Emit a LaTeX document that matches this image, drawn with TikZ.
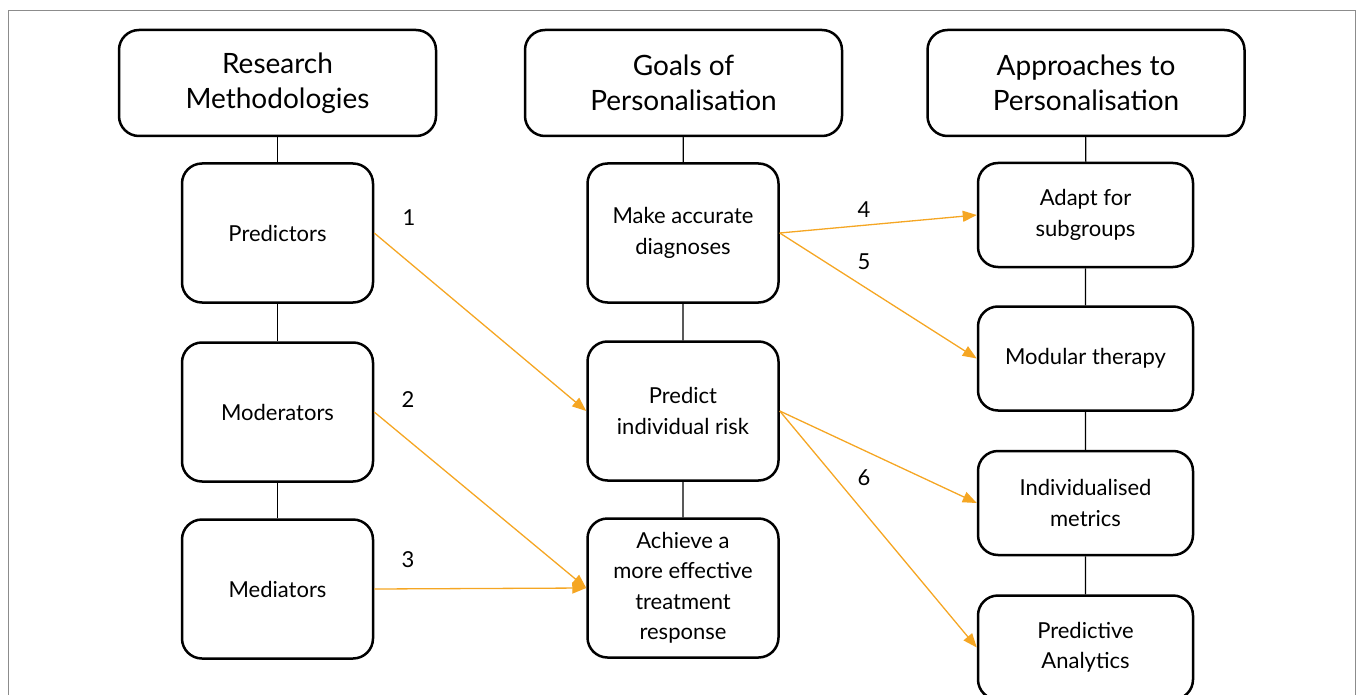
\documentclass[tikz,border=0pt]{standalone}
\usepackage{fontspec}
\setmainfont{Lato}
\usetikzlibrary{arrows.meta}
\definecolor{arrorange}{RGB}{245,166,35}
\begin{document}
\begin{tikzpicture}[x=1pt,y=-1pt,
  headbox/.style={draw,line width=2.5pt,rounded corners=20pt,minimum width=317pt,minimum height=106pt,align=center,font=\fontsize{28}{35}\selectfont},
  itembox/.style={draw,line width=2.5pt,rounded corners=20pt,minimum width=191pt,minimum height=139pt,align=center,font=\fontsize{22}{30.5}\selectfont},
  appbox/.style={itembox,minimum width=215pt,minimum height=104pt},
  link/.style={line width=1.2pt},
  flow/.style={draw=arrorange,line width=1.3pt,-{Triangle[length=14pt,width=11pt]}},
  num/.style={font=\fontsize{22}{26}\selectfont}]
\useasboundingbox (0,0) rectangle (1356,695);
\clip (0,0) rectangle (1356,695);
\draw[black!45,line width=1pt] (8,720) -- (8,11) -- (1355,11) -- (1355,720);
\node[headbox] (meth) at (277.5,83) {Research\\Methodologies};
\node[headbox] (goal) at (683.5,83) {Goals of\\Personalisation};
\node[headbox] (appr) at (1086,83) {Approaches to\\Personalisation};
\node[itembox] (pred) at (277.5,233) {Predictors};
\node[itembox] (mod) at (277.5,412) {Moderators};
\node[itembox] (med) at (277.5,589) {Mediators};
\node[itembox] (diag) at (683,233) {Make accurate\\diagnoses};
\node[itembox] (risk) at (683,411) {Predict\\individual risk};
\node[itembox] (resp) at (683,588) {Achieve a\\more effective\\treatment\\response};
\node[appbox] (sub) at (1085.5,215) {Adapt for\\subgroups};
\node[appbox] (modu) at (1085.5,358.5) {Modular therapy};
\node[appbox] (metr) at (1085.5,503) {Individualised\\metrics};
\node[appbox] (anal) at (1085.5,647.5) {Predictive\\Analytics};
\draw[link] (meth) -- (pred) (pred) -- (mod) (mod) -- (med);
\draw[link] (goal) -- (diag) (diag) -- (risk) (risk) -- (resp);
\draw[link] (appr) -- (sub) (sub) -- (modu) (modu) -- (metr) (metr) -- (anal);
\draw[flow] (pred.east) -- (risk.west);
\draw[flow] (mod.east) -- (resp.west);
\draw[flow] (med.east) -- (resp.west);
\draw[flow] (diag.east) -- (sub.west);
\draw[flow] (diag.east) -- (modu.west);
\draw[flow] (risk.east) -- (metr.west);
\draw[flow] (risk.east) -- (anal.west);
\node[num] (n1) at (409,218) {1};
\node[num] (n2) at (408,400) {2};
\node[num] (n3) at (408,560) {3};
\node[num] (n4) at (864,210) {4};
\node[num] (n5) at (864,262) {5};
\node[num] (n6) at (864,478) {6};
\end{tikzpicture}
\end{document}
